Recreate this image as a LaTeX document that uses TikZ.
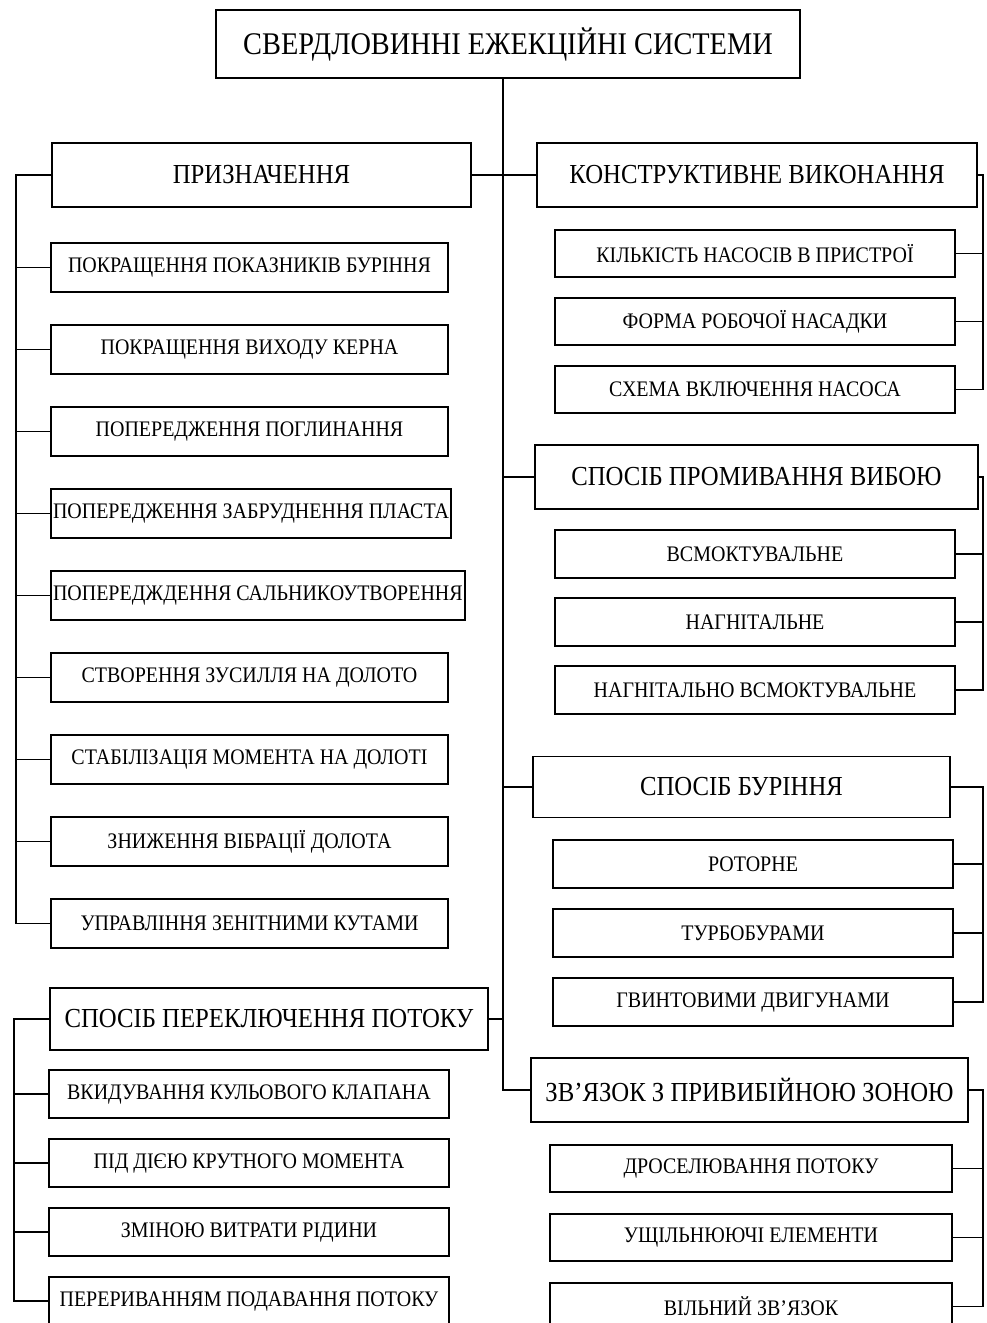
\documentclass[tikz,border=0pt]{standalone}
\usepackage{fontspec}
\setmainfont[FakeStretch=0.9]{Liberation Serif}
\usetikzlibrary{positioning}

\begin{document}
\begin{tikzpicture}[
    x=1pt, y=-1pt,
    node distance=21pt,
    line width=1.9pt,
    golovna/.style={
        draw,
        outer sep=0pt,
        minimum width=584pt,
        minimum height=68pt,
        inner xsep=2pt,
        font=\fontsize{31.5}{34}\selectfont
    },
    rozdil/.style={
        draw,
        outer sep=0pt,
        anchor=west,
        minimum height=64pt,
        inner xsep=2pt,
        font=\fontsize{27.5}{30}\selectfont
    },
    punkt/.style={
        draw,
        outer sep=0pt,
        minimum width=400pt,
        minimum height=48pt,
        inner xsep=2pt,
        font=\fontsize{22.2}{26}\selectfont
    },
    punktl/.style={punkt, minimum width=397pt, minimum height=49pt}
]
\useasboundingbox (0,0) rectangle (986,1323);

\coordinate (stovbur) at (503,0);
\coordinate (liva) at (16,0);
\coordinate (liva2) at (14,0);
\coordinate (prava) at (983,0);

\node[golovna] (ttl) at (508,44)
{СВЕРДЛОВИННІ ЕЖЕКЦІЙНІ СИСТЕМИ};

% ліва колонка: призначення
\node[rozdil, minimum width=419pt] (pryzn) at (52,175) {ПРИЗНАЧЕННЯ};

\node[punktl, anchor=north west] (p1) at (51,243)
{ПОКРАЩЕННЯ ПОКАЗНИКІВ БУРІННЯ};
\node[punktl, below=33pt of p1.south west, anchor=north west] (p2)
{ПОКРАЩЕННЯ ВИХОДУ КЕРНА};
\node[punktl, below=33pt of p2.south west, anchor=north west] (p3)
{ПОПЕРЕДЖЕННЯ ПОГЛИНАННЯ};
\node[punktl, below=33pt of p3.south west, anchor=north west] (p4)
{ПОПЕРЕДЖЕННЯ ЗАБРУДНЕННЯ ПЛАСТА};
\node[punktl, below=33pt of p4.south west, anchor=north west] (p5)
{ПОПЕРЕДЖДЕННЯ САЛЬНИКОУТВОРЕННЯ};
\node[punktl, below=33pt of p5.south west, anchor=north west] (p6)
{СТВОРЕННЯ ЗУСИЛЛЯ НА ДОЛОТО};
\node[punktl, below=33pt of p6.south west, anchor=north west] (p7)
{СТАБІЛІЗАЦІЯ МОМЕНТА НА ДОЛОТІ};
\node[punktl, below=33pt of p7.south west, anchor=north west] (p8)
{ЗНИЖЕННЯ ВІБРАЦІЇ ДОЛОТА};
\node[punktl, below=33pt of p8.south west, anchor=north west] (p9)
{УПРАВЛІННЯ ЗЕНІТНИМИ КУТАМИ};

% ліва колонка: переключення потоку
\node[rozdil, minimum width=438pt, minimum height=62pt] (peremk) at (50,1019)
{СПОСІБ ПЕРЕКЛЮЧЕННЯ ПОТОКУ};

\node[punkt, anchor=north west] (s1) at (49,1070)
{ВКИДУВАННЯ КУЛЬОВОГО КЛАПАНА};
\node[punkt, below=of s1.south west, anchor=north west] (s2)
{ПІД ДІЄЮ КРУТНОГО МОМЕНТА};
\node[punkt, below=of s2.south west, anchor=north west] (s3)
{ЗМІНОЮ ВИТРАТИ РІДИНИ};
\node[punkt, below=of s3.south west, anchor=north west] (s4)
{ПЕРЕРИВАННЯМ ПОДАВАННЯ ПОТОКУ};

% права колонка
\node[rozdil, minimum width=440pt] (konstr) at (537,175)
{КОНСТРУКТИВНЕ ВИКОНАННЯ};

\node[punkt, minimum height=47pt, anchor=north west] (k1) at (555,230)
{КІЛЬКІСТЬ НАСОСІВ В ПРИСТРОЇ};
\node[punkt, minimum height=47pt, below=of k1.south west, anchor=north west] (k2)
{ФОРМА РОБОЧОЇ НАСАДКИ};
\node[punkt, minimum height=47pt, below=of k2.south west, anchor=north west] (k3)
{СХЕМА ВКЛЮЧЕННЯ НАСОСА};

\node[rozdil, minimum width=443pt] (promyv) at (535,477)
{СПОСІБ ПРОМИВАННЯ ВИБОЮ};

\node[punkt, anchor=north west] (v1) at (555,530)
{ВСМОКТУВАЛЬНЕ};
\node[punkt, below=20pt of v1.south west, anchor=north west] (v2)
{НАГНІТАЛЬНЕ};
\node[punkt, below=20pt of v2.south west, anchor=north west] (v3)
{НАГНІТАЛЬНО ВСМОКТУВАЛЬНЕ};

\node[rozdil, minimum width=417pt, minimum height=61pt] (bur) at (533,787)
{СПОСІБ БУРІННЯ};

\node[punkt, anchor=north west] (r1) at (553,840)
{РОТОРНЕ};
\node[punkt, below=of r1.south west, anchor=north west] (r2)
{ТУРБОБУРАМИ};
\node[punkt, below=of r2.south west, anchor=north west] (r3)
{ГВИНТОВИМИ ДВИГУНАМИ};

\node[rozdil, minimum width=437pt] (zvz) at (531,1090)
{ЗВ'ЯЗОК З ПРИВИБІЙНОЮ ЗОНОЮ};

\node[punkt, minimum width=402pt, minimum height=47pt, anchor=north west] (z1) at (550,1145)
{ДРОСЕЛЮВАННЯ ПОТОКУ};
\node[punkt, minimum width=402pt, minimum height=47pt, below=22pt of z1.south west, anchor=north west] (z2)
{УЩІЛЬНЮЮЧІ ЕЛЕМЕНТИ};
\node[punkt, minimum width=402pt, minimum height=47pt, below=22pt of z2.south west, anchor=north west] (z3)
{ВІЛЬНИЙ ЗВ'ЯЗОК};

% стовбур
\draw (ttl.south -| stovbur) |- (zvz.west);
\draw (pryzn.east) -- (konstr.west);
\draw (stovbur |- promyv.west) -- (promyv.west);
\draw (stovbur |- bur.west) -- (bur.west);
\draw (peremk.east) -- (stovbur |- peremk.east);

% ліві гілки
\draw (pryzn.west) -| (liva |- p9.west) -- (p9.west);
\draw (p1.west) -- (liva |- p1.west);
\draw (p2.west) -- (liva |- p2.west);
\draw (p3.west) -- (liva |- p3.west);
\draw (p4.west) -- (liva |- p4.west);
\draw (p5.west) -- (liva |- p5.west);
\draw (p6.west) -- (liva |- p6.west);
\draw (p7.west) -- (liva |- p7.west);
\draw (p8.west) -- (liva |- p8.west);

\draw (peremk.west) -| (liva2 |- s4.west) -- (s4.west);
\draw (s1.west) -- (liva2 |- s1.west);
\draw (s2.west) -- (liva2 |- s2.west);
\draw (s3.west) -- (liva2 |- s3.west);

% праві гілки
\draw (konstr.east) -| (prava |- k3.east) -- (k3.east);
\draw (k1.east) -- (prava |- k1.east);
\draw (k2.east) -- (prava |- k2.east);

\draw (promyv.east) -| (prava |- v3.east) -- (v3.east);
\draw (v1.east) -- (prava |- v1.east);
\draw (v2.east) -- (prava |- v2.east);

\draw (bur.east) -| (prava |- r3.east) -- (r3.east);
\draw (r1.east) -- (prava |- r1.east);
\draw (r2.east) -- (prava |- r2.east);

\draw (zvz.east) -| (prava |- z3.east) -- (z3.east);
\draw (z1.east) -- (prava |- z1.east);
\draw (z2.east) -- (prava |- z2.east);

\end{tikzpicture}
\end{document}
